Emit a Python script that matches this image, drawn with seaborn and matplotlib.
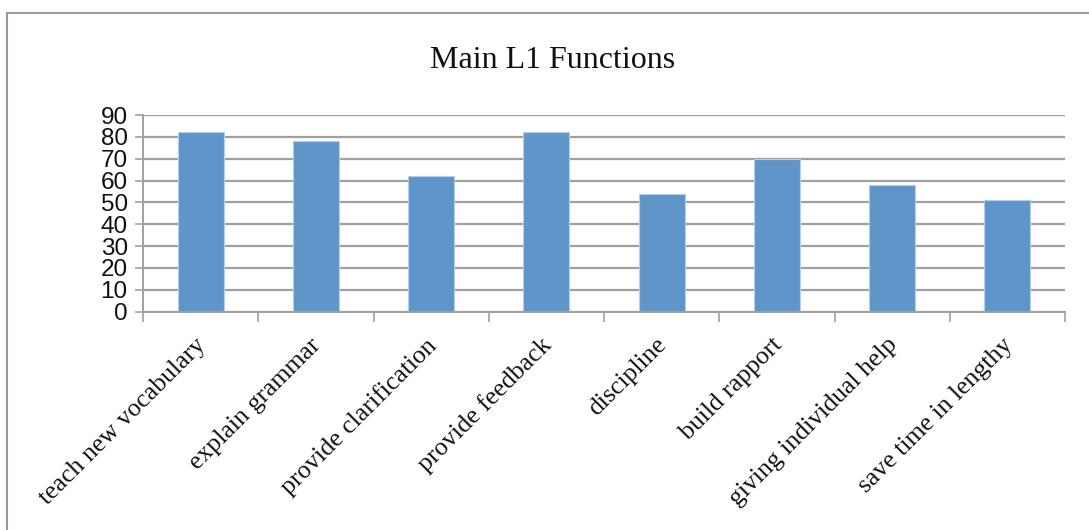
import matplotlib
matplotlib.use("Agg")
import matplotlib.pyplot as plt
import matplotlib.transforms as mtransforms
from matplotlib.patches import Rectangle
import seaborn as sns
import pandas as pd
import numpy as np

categories = [
    "teach new vocabulary",
    "explain grammar",
    "provide clarification",
    "provide feedback",
    "discipline",
    "build rapport",
    "giving individual help",
    "save time in lengthy",
]
values = [82, 78, 62, 82, 54, 70, 58, 51]
y_ticks = [0, 10, 20, 30, 40, 50, 60, 70, 80, 90]

df = pd.DataFrame({"function": categories, "percent": values})

sns.set_theme(style="white")
plt.rcParams["font.family"] = ["Liberation Sans", "DejaVu Sans"]

W, H = 1089, 530
fig = plt.figure(figsize=(W / 100, H / 100), dpi=100)
ax = fig.add_axes([143 / W, 1 - 311.7 / H, (1065 - 143) / W, (311.7 - 115) / H])

grid_c = "#a0a0a0"
ax.set_axisbelow(True)
for t in y_ticks:
    ax.axhline(t, color=grid_c, lw=1.6, zorder=0)

sns.barplot(data=df, x="function", y="percent", ax=ax, color="#5f96c9",
            width=0.4, saturation=1, edgecolor="#b5cde8", linewidth=0.8)

ax.set_xlim(-0.5, len(categories) - 0.5)
ax.set_ylim(0, 90)
ax.set_yticks(y_ticks)
ax.set_yticklabels([str(t) for t in y_ticks], fontsize=17.5, color="#111111")
ax.tick_params(axis="y", direction="out", length=6, width=1.2, color=grid_c, pad=5, left=True)

ax.set_xticks(range(len(categories)))
ax.set_xticklabels(categories, rotation=45, ha="right", rotation_mode="anchor",
                   fontsize=18.5, family="Liberation Serif", color="#111111")
ax.tick_params(axis="x", which="major", length=0, pad=16)
shift = mtransforms.ScaledTranslation(-6 / 100, 0, fig.dpi_scale_trans)
for lbl in ax.get_xticklabels():
    lbl.set_transform(lbl.get_transform() + shift)
ax.set_xticks(np.arange(-0.5, len(categories)), minor=True)
ax.tick_params(axis="x", which="minor", direction="out", length=7, width=1.2, color=grid_c, bottom=True)

for s in ["top", "right"]:
    ax.spines[s].set_visible(False)
for s in ["left", "bottom"]:
    ax.spines[s].set_color(grid_c)
    ax.spines[s].set_linewidth(1.4)

ax.set_xlabel("")
ax.set_ylabel("")

fig.text(553 / W, 1 - 60 / H, "Main L1 Functions", ha="center", va="center",
         fontsize=23, family="Liberation Serif", color="#111111")

# outer chart frame
fig.patches.append(Rectangle((7 / W, -0.1), 1.2, 1 - 13 / H + 0.1, transform=fig.transFigure,
                             fill=False, edgecolor="#9a9a9a", lw=1.5, zorder=-1))

fig.savefig("out.png", dpi=100, facecolor="white")
